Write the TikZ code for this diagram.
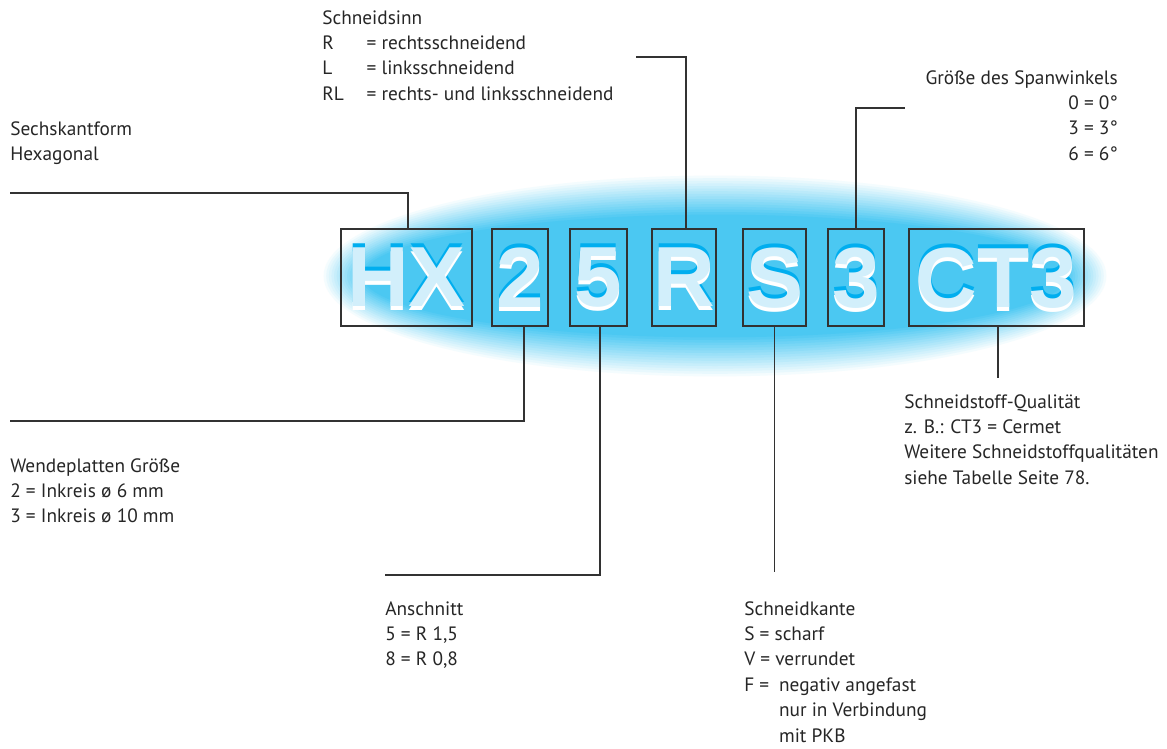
\documentclass[tikz,border=0pt]{standalone}
\usepackage{fontspec}
\setmainfont{PT Sans}
\newfontfamily\platefont{Liberation Sans}
\usetikzlibrary{positioning}

\definecolor{glowblue}{RGB}{75,200,242}
\definecolor{letfill}{RGB}{210,239,251}
\definecolor{letshade}{RGB}{0,174,239}
\definecolor{linegray}{RGB}{50,50,50}

\tikzset{
	plate/.style={draw=linegray, line width=1pt, minimum height=72.75pt, inner sep=0pt},
	letter/.style={font=\platefont\bfseries\fontsize{64}{64}\selectfont, inner sep=0pt, text depth=0pt},
	legend/.style={align=left, anchor=north west, inner sep=0pt, text=black!85, font=\fontsize{14.5}{19.1}\selectfont},
	conn/.style={draw=linegray, line width=1pt}
}

\begin{document}
\begin{tikzpicture}[x=0.75pt,y=-0.75pt]
		\useasboundingbox (0,0) rectangle (1167,749);
		
		% glow
		\foreach \i in {0,...,16}
			\fill[glowblue!\the\numexpr \i*100/16\relax!white] (715,276) ellipse [x radius={394-2.6*\i}, y radius={103-2.6*\i}];
		
		\node[plate, minimum width=98.25pt] (hx) at (406.5,277.5) {};
		\node[plate, minimum width=42pt] (two) at (520,277.5) {};
		\node[plate, minimum width=42.75pt] (five) at (598.5,277.5) {};
		\node[plate, minimum width=48pt] (r) at (684,277.5) {};
		\node[plate, minimum width=47.25pt] (s) at (774.5,277.5) {};
		\node[plate, minimum width=42pt] (three) at (856,277.5) {};
		\node[plate, minimum width=131.25pt] (ct) at (996.5,277.5) {};
		
		\foreach \n/\t in {hx/HX, two/2, five/5, r/R, s/S, three/3, ct/CT3} {
			\node[letter, text=letshade, yshift=3pt] at (\n) {\t};
			\node[letter, text=white, yshift=-3pt] at (\n) {\t};
			\node[letter, text=letfill] at (\n) {\t};
		}
		
		\node[legend] (sinn) at (322,10) {Schneidsinn\\
			\makebox[2.3em][l]{R}= rechtsschneidend\\
			\makebox[2.3em][l]{L}= linksschneidend\\
			\makebox[2.3em][l]{RL}= rechts- und linksschneidend};
		\node[legend, align=right, anchor=north east] (winkel) at (1118,70) {Größe des Spanwinkels\\
			0 = 0°\\ 3 = 3°\\ 6 = 6°};
		\node[legend] (form) at (10,121) {Sechskantform\\ Hexagonal};
		\node[legend] (groesse) at (10,458) {Wendeplatten Größe\\
			2 = Inkreis ø 6 mm\\ 3 = Inkreis ø 10 mm};
		\node[legend] (anschnitt) at (385,601) {Anschnitt\\ 5 = R 1,5\\ 8 = R 0,8};
		\node[legend] (kante) at (744,601) {Schneidkante\\ S = scharf\\ V = verrundet\\
			\makebox[1.8em][l]{F =}negativ angefast\\ \hspace*{1.8em}nur in Verbindung\\ \hspace*{1.8em}mit PKB};
		\node[legend] (stoff) at (904,394) {Schneidstoff-Qualität\\ z. B.: CT3 = Cermet\\
			Weitere Schneidstoffqualitäten\\ siehe Tabelle Seite 78.};
		
		\coordinate (hxend) at (10,193);
		\coordinate (rend) at (636,57);
		\coordinate (threeend) at (905,108);
		\coordinate (twoend) at (10,421);
		\coordinate (fiveend) at (385,575);
		\coordinate (send) at (775,572);
		\coordinate (ctend) at (998,378);
		
		\draw[conn] ([xshift=1pt]hx.north) |- (hxend);
		\draw[conn] ([xshift=1.5pt]r.north) |- (rend);
		\draw[conn] (three.north) |- (threeend);
		\draw[conn] ([xshift=3pt]two.south) |- (twoend);
		\draw[conn] ([xshift=1pt]five.south) |- (fiveend);
		\draw[conn] (s.south) -- (s.south |- send);
		\draw[conn] ([xshift=1pt]ct.south) -- ([xshift=1pt]ct.south |- ctend);
\end{tikzpicture}
\end{document}
